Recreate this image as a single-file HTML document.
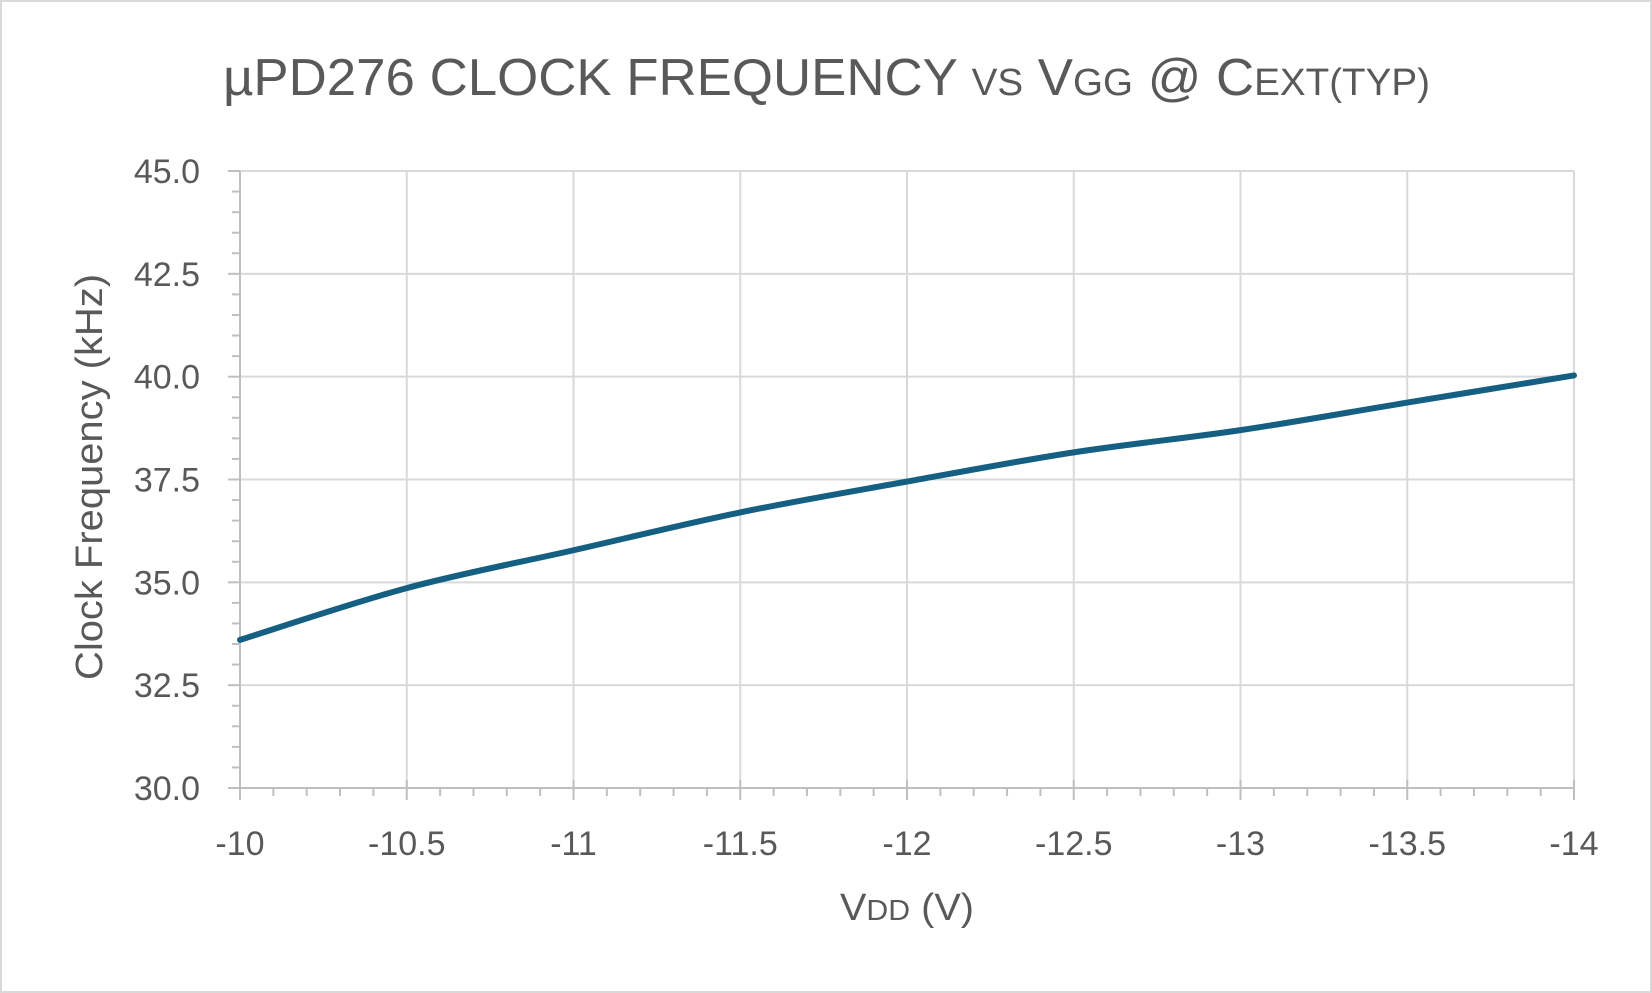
<!DOCTYPE html>
<html><head><meta charset="utf-8">
<style>html,body{margin:0;padding:0;background:#fff}svg{display:block;font-family:"Liberation Sans",sans-serif}</style>
</head><body>
<svg id="chart" width="1652" height="993" viewBox="0 0 1652 993">
<rect x="1" y="1" width="1650" height="991" fill="#fff" stroke="#d9d9d9" stroke-width="2"/>
<text x="223" y="95" fill="#595959" font-size="52" textLength="1207" lengthAdjust="spacingAndGlyphs">µPD276 CLOCK FREQUENCY <tspan font-size="38">VS</tspan> V<tspan font-size="38">GG</tspan> @ C<tspan font-size="38">EXT(TYP)</tspan></text>
<g id="grid"></g>
<g id="axes"></g>
<g id="series"></g>
<text transform="translate(102,477) rotate(-90)" x="-203" fill="#595959" font-size="38" textLength="406" lengthAdjust="spacingAndGlyphs">Clock Frequency (kHz)</text>
<text x="840" y="920" fill="#595959" font-size="38" textLength="134" lengthAdjust="spacingAndGlyphs">V<tspan font-size="29">DD</tspan> (V)</text>
</svg>
<script>
const xValues = [-10, -10.5, -11, -11.5, -12, -12.5, -13, -13.5, -14];
const freqValues = [33.6, 34.86, 35.78, 36.7, 37.45, 38.16, 38.7, 39.37, 40.03];
const yTicks = [30, 32.5, 35, 37.5, 40, 42.5, 45];
const yTickLabels = ["30.0","32.5","35.0","37.5","40.0","42.5","45.0"];
const xTicks = [-10, -10.5, -11, -11.5, -12, -12.5, -13, -13.5, -14];
const xTickLabels = ["-10","-10.5","-11","-11.5","-12","-12.5","-13","-13.5","-14"];

const L=240,R=1574,T=171,B=788;
const xMin=-10,xMax=-14,yMin=30,yMax=45;
const sx=v=>L+(v-xMin)/(xMax-xMin)*(R-L);
const sy=v=>B-(v-yMin)/(yMax-yMin)*(B-T);
const NS="http://www.w3.org/2000/svg";
function mk(tag,parent,attrs){const e=document.createElementNS(NS,tag);for(const k in attrs)e.setAttribute(k,attrs[k]);parent.appendChild(e);return e;}
const grid=document.getElementById('grid'),axes=document.getElementById('axes'),series=document.getElementById('series');

yTicks.forEach((t,i)=>{
  const y=sy(t);
  if(t>yMin){const g=mk('line',grid,{x1:L,x2:R,y1:y,y2:y,stroke:'#d9d9d9','stroke-width':2});
  
  }
  const tk=mk('line',axes,{x1:L-12,x2:L,y1:y,y2:y,stroke:'#bfbfbf','stroke-width':2});
  
  
  const lb=mk('text',axes,{x:200,y:y+12,'text-anchor':'end',fill:'#595959','font-size':34});
  lb.textContent=yTickLabels[i];
  
  
});
for(let v=yMin;v<yMax;v+=0.5){
  if(Math.abs(v/2.5-Math.round(v/2.5))<1e-6)continue;
  const m=mk('line',axes,{x1:L-8,x2:L,y1:sy(v),y2:sy(v),stroke:'#bfbfbf','stroke-width':2});
  
  
}
xTicks.forEach((t,i)=>{
  const x=sx(t);
  if(t!==xMin){const g=mk('line',grid,{x1:x,x2:x,y1:T,y2:B,stroke:'#d9d9d9','stroke-width':2});
  
  }
  const tk=mk('line',axes,{x1:x,x2:x,y1:B-8,y2:B+12,stroke:'#bfbfbf','stroke-width':2});
  
  
  const lb=mk('text',axes,{x:x,y:855,'text-anchor':'middle',fill:'#595959','font-size':34});
  lb.textContent=xTickLabels[i];
  
  
});
for(let k=1;k<40;k++){
  if(k%5===0)continue;
  const x=sx(xMin-k*0.1);
  const m=mk('line',axes,{x1:x,x2:x,y1:B,y2:B+8,stroke:'#bfbfbf','stroke-width':2});
  
  
}
const ya=mk('line',axes,{x1:L,x2:L,y1:T,y2:B,stroke:'#bfbfbf','stroke-width':2});


const xa=mk('line',axes,{x1:L,x2:R,y1:B,y2:B,stroke:'#bfbfbf','stroke-width':2});



const pts=xValues.map((v,i)=>[sx(v),sy(freqValues[i])]);
let d=`M${pts[0][0]},${pts[0][1]}`;
for(let i=0;i<pts.length-1;i++){
  const p0=pts[Math.max(i-1,0)],p1=pts[i],p2=pts[i+1],p3=pts[Math.min(i+2,pts.length-1)];
  const c1=[p1[0]+(p2[0]-p0[0])/6,p1[1]+(p2[1]-p0[1])/6];
  const c2=[p2[0]-(p3[0]-p1[0])/6,p2[1]-(p3[1]-p1[1])/6];
  d+=` C${c1[0]},${c1[1]} ${c2[0]},${c2[1]} ${p2[0]},${p2[1]}`;
}
const line=mk('path',series,{d:d,fill:'none',stroke:'#156082','stroke-width':6,'stroke-linecap':'round','stroke-linejoin':'round'});


</script>
</body></html>
